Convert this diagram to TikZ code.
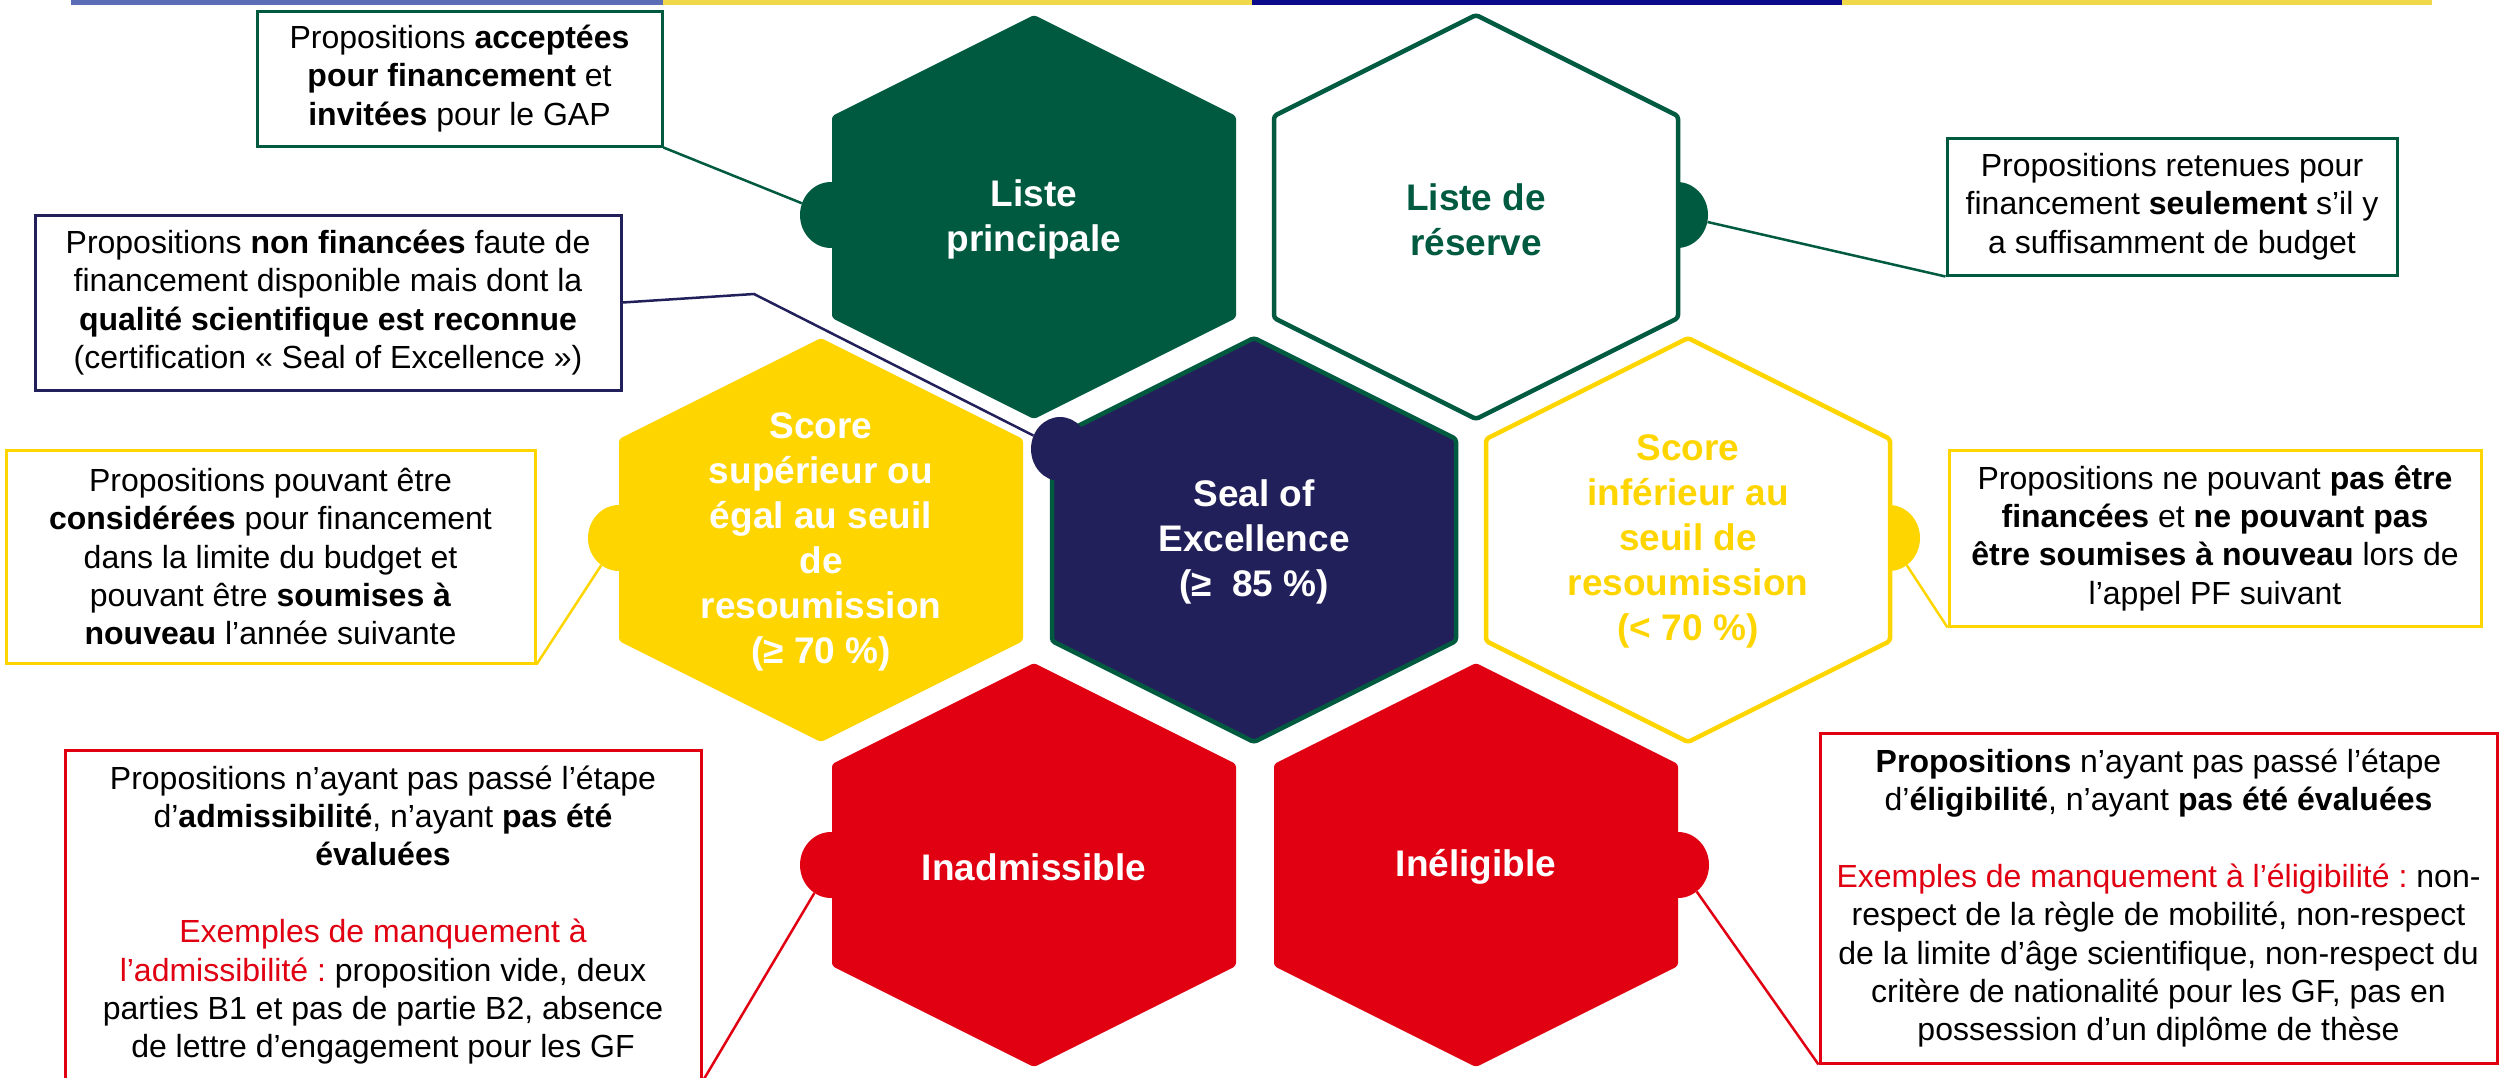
\documentclass[tikz,border=0pt]{standalone}
\usepackage{fontspec}
\setmainfont{Liberation Sans}
\usetikzlibrary{shapes.geometric}
\definecolor{gr}{RGB}{0,90,64}
\definecolor{nv}{RGB}{34,32,90}
\definecolor{yl}{RGB}{255,213,0}
\definecolor{rd}{RGB}{224,0,18}
\definecolor{barblue}{RGB}{91,110,181}
\definecolor{baryel}{RGB}{240,216,74}
\definecolor{barnavy}{RGB}{10,10,138}
\newcommand\bxfont{\fontsize{32}{38.4}\selectfont\frenchspacing}
\newcommand\hxfont{\fontsize{37}{45}\selectfont\bfseries}
\begin{document}
\begin{tikzpicture}[x=1pt,y=-1pt,
  infobox/.style={draw, line width=3pt, fill=white, align=center, inner sep=0pt, font=\bxfont, text=black},
  bump/.style={ellipse, draw=none, inner sep=0pt, minimum width=62pt, minimum height=66pt},
  link/.style={line width=2.5pt},
  hexlbl/.style={align=center, font=\hxfont, inner sep=0pt},
  hexa/.pic={\path[pic actions, rounded corners=3pt] (0,-202) -- (202,-101) -- (202,101) -- (0,202) -- (-202,101) -- (-202,-101) -- cycle;}
]
\useasboundingbox (0,0) rectangle (2501,1077);
\clip (0,0) rectangle (2501,1077);
% top bar
\fill[barblue] (71,0) rectangle (663,5);
\fill[baryel] (663,0) rectangle (1252,5);
\fill[barnavy] (1252,0) rectangle (1842,5);
\fill[baryel] (1842,0) rectangle (2432,5);

% boxes
\node[infobox, draw=gr, minimum width=405pt, minimum height=135pt] (acc) at (459.5,78.5)
 {Propositions \textbf{acceptées}\\ \textbf{pour financement} et\\ \textbf{invitées} pour le GAP};
\node[infobox, draw=nv, minimum width=586pt, minimum height=175pt] (nonf) at (328,302.5)
 {Propositions \textbf{non financées} faute de\\ financement disponible mais dont la\\ \textbf{qualité scientifique est reconnue}\\ (certification « Seal of Excellence »)};
\node[infobox, draw=yl, minimum width=529pt, minimum height=213pt] (cons) at (270.5,556.5)
 {Propositions pouvant être\\ \textbf{considérées} pour financement\\ dans la limite du budget et\\ pouvant être \textbf{soumises à}\\ \textbf{nouveau} l’année suivante};
\node[infobox, draw=gr, minimum width=450pt, minimum height=137pt] (ret) at (2172,206.5)
 {Propositions retenues pour\\ financement \textbf{seulement} s’il y\\ a suffisamment de budget};
\node[infobox, draw=yl, minimum width=532pt, minimum height=176pt] (nepv) at (2215,538)
 {Propositions ne pouvant \textbf{pas être}\\ \textbf{financées} et \textbf{ne pouvant pas}\\ \textbf{être soumises à nouveau} lors de\\ l’appel PF suivant};
\node[infobox, draw=rd, minimum width=636pt, minimum height=330pt] (inad) at (383,915)
 {Propositions n’ayant pas passé l’étape\\ d’\textbf{admissibilité}, n’ayant \textbf{pas été}\\ \textbf{évaluées}\\[38.4pt] \textcolor{rd}{Exemples de manquement à}\\ \textcolor{rd}{l’admissibilité :} proposition vide, deux\\ parties B1 et pas de partie B2, absence\\ de lettre d’engagement pour les GF};
\node[infobox, draw=rd, minimum width=677pt, minimum height=330pt] (inel) at (2158.5,898)
 {\textbf{Propositions} n’ayant pas passé l’étape\\ d’\textbf{éligibilité}, n’ayant \textbf{pas été évaluées}\\[38.4pt] \textcolor{rd}{Exemples de manquement à l’éligibilité :} non-\\ respect de la règle de mobilité, non-respect\\ de la limite d’âge scientifique, non-respect du\\ critère de nationalité pour les GF, pas en\\ possession d’un diplôme de thèse};

% bumps (behind hexagons)
\node[bump, fill=gr] (bLP) at (831,215) {};
\node[bump, fill=gr] (bLR) at (1677,215) {};
\node[bump, fill=yl] (bSS) at (619,538) {};
\node[bump, fill=yl] (bSI) at (1889,538) {};
\node[bump, fill=rd] (bIA) at (831,865) {};
\node[bump, fill=rd] (bIE) at (1678,865) {};

% connectors
\draw[link, gr] (acc.south east) -- (bLP);
\draw[link, gr] (bLR) -- (ret.south west);
\draw[link, yl] (cons.south east) -- (bSS);
\draw[link, yl] (bSI) -- (nepv.south west);
\draw[link, rd] (bIA) -- (inad.south east);
\draw[link, rd] (bIE) -- (inel.south west);

% hexagons
\pic[fill=gr] at (1034,217) {hexa};
\pic[fill=white, draw=gr, line width=4.5pt] at (1476,217) {hexa};
\pic[fill=yl] at (821,540) {hexa};
\pic[fill=nv, draw=gr, line width=4.5pt] at (1254,540) {hexa};
\pic[fill=white, draw=yl, line width=4.5pt] at (1688,540) {hexa};
\pic[fill=rd] at (1034,865) {hexa};
\pic[fill=rd] at (1476,865) {hexa};

% seal bump on top
\node[bump, fill=nv, minimum width=58pt, minimum height=64pt] (bSE) at (1060,449) {};
\coordinate (k1) at (754,294);
\draw[link, nv] (nonf.east) -- (k1) -- (bSE);

% hexagon labels
\node[hexlbl, text=white] (LP) at (1034,219.5) {Liste\\principale};
\node[hexlbl, text=gr] (LR) at (1476,219.5) {Liste de\\réserve};
\node[hexlbl, text=white] (SS) at (821,541.5) {Score\\supérieur ou\\égal au seuil\\de\\resoumission\\(≥ 70 \%)};
\node[hexlbl, text=white] (SE) at (1254,542) {Seal of\\Excellence\\(≥\ \ 85 \%)};
\node[hexlbl, text=yl] (SI) at (1688,541.5) {Score\\inférieur au\\seuil de\\resoumission\\(< 70 \%)};
\node[hexlbl, text=white] (IA) at (1034,867) {Inadmissible};
\node[hexlbl, text=white] (IE) at (1476,867) {Inéligible};
\end{tikzpicture}
\end{document}
